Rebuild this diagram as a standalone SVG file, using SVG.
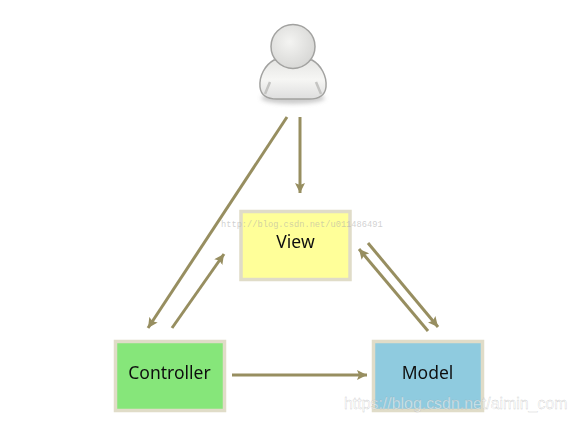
<svg xmlns="http://www.w3.org/2000/svg" width="576" height="421" viewBox="0 0 576 421">
<style>
.box{stroke:#e0dcc8;stroke-width:3.5}
.lbl{font-family:"Noto Sans","DejaVu Sans",sans-serif;font-size:17.500px;fill:#111;text-anchor:middle}
.c{stroke:#978e60;stroke-width:3;fill:none;marker-end:url(#a)}
.wm{font-family:"Liberation Sans",Arial,sans-serif;font-size:15.900px;fill:#fff;fill-opacity:.55;stroke:#999;stroke-opacity:.55;stroke-width:.35}
.wm2{font-family:"Liberation Mono",monospace;font-size:8.700px;fill:#aaa;fill-opacity:.55}
.soft{filter:url(#f)}
</style>
<defs>
<marker id="a" markerUnits="userSpaceOnUse" markerWidth="12" markerHeight="10" refX="10" refY="5" orient="auto"><path d="M0 0L10 5L0 10L2 5Z" fill="#978e60"/></marker>
<radialGradient id="h" cx=".42" cy=".4" r=".65"><stop offset="0" stop-color="#f4f4f2"/><stop offset="1" stop-color="#d6d6d4"/></radialGradient>
<linearGradient id="b" x1="0" y1="0" x2="0" y2="1"><stop offset="0" stop-color="#e6e6e4"/><stop offset=".5" stop-color="#f6f6f4"/><stop offset="1" stop-color="#dedede"/></linearGradient>
<filter id="s" x="-20%" y="-30%" width="140%" height="170%"><feGaussianBlur stdDeviation="2"/></filter>
<filter id="f" x="-5%" y="-5%" width="110%" height="110%"><feGaussianBlur stdDeviation=".45"/></filter>
</defs>
<rect width="576" height="421" fill="#fff"/>
<g id="user" class="soft">
<ellipse cx="293" cy="98" rx="32" ry="6" fill="#999" opacity=".5" filter="url(#s)"/>
<path d="M274 60C265 65 259 76 260 87C261 96 268 99 277 99H309C318 99 325 96 326 87C327 76 321 65 312 60Z" fill="url(#b)" stroke="#a2a2a0" stroke-width="1.500"/>
<path d="M270 82L265 94M316 82L321 94" stroke="#c4c4c2" stroke-width="2.500" fill="none"/>
<circle cx="293" cy="46.500" r="22" fill="url(#h)" stroke="#a2a2a0" stroke-width="1.500"/>
</g>
<g id="connectors" class="soft">
<path class="c" d="M287 117L148 328"/>
<path class="c" d="M300 117V193"/>
<path class="c" d="M172 328L224 254"/>
<path class="c" d="M232 375H367"/>
<path class="c" d="M368 243L438 327"/>
<path class="c" d="M428 331L359 249"/>
</g>
<g id="view" class="soft">
<rect class="box" x="241" y="211.500" width="109" height="68" fill="#ffff99"/>
<text class="lbl" x="295.500" y="248">View</text>
</g>
<g id="controller" class="soft">
<rect class="box" x="115.500" y="341.500" width="109" height="69" fill="#86e67a"/>
<text class="lbl" x="169.500" y="379">Controller</text>
</g>
<g id="model" class="soft">
<rect class="box" x="373.500" y="341.500" width="109" height="69" fill="#8fcbdf"/>
<text class="lbl" x="427.500" y="379">Model</text>
</g>
<text class="wm2" x="221" y="227">http://blog.csdn.net/u011486491</text>
<text class="wm" x="344" y="408.500">https://blog.csdn.net/aimin_com</text>
</svg>
